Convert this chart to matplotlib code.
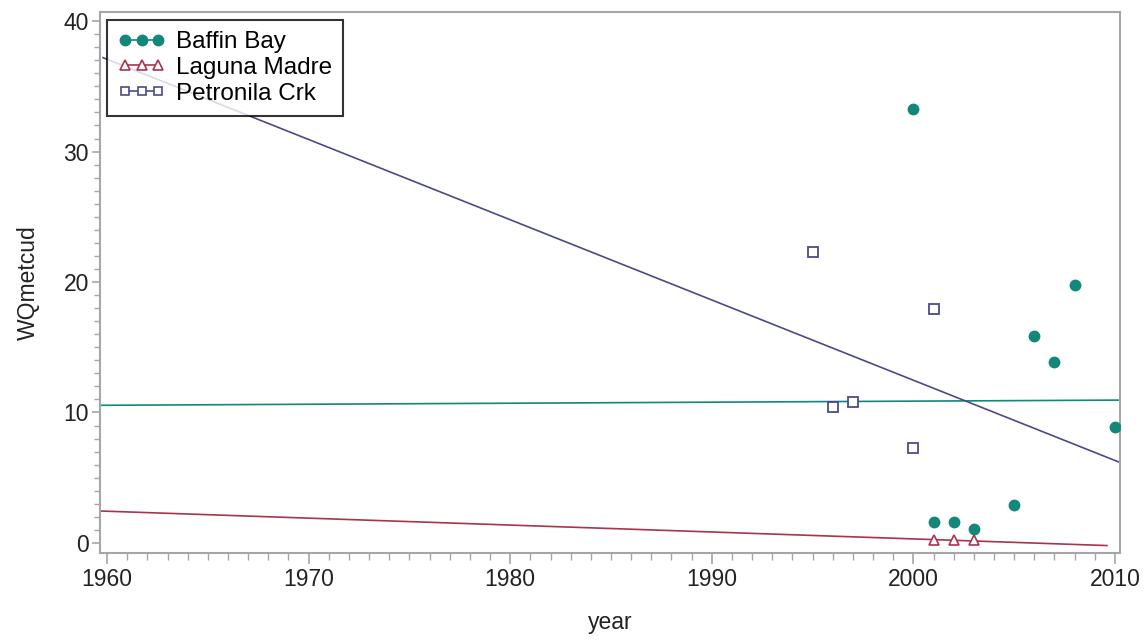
import matplotlib
matplotlib.use("Agg")
import matplotlib.pyplot as plt
from matplotlib.ticker import MultipleLocator

plt.rcParams['font.family'] = ['Liberation Sans', 'DejaVu Sans']

# ---- data ----
baffin_year = [2000, 2001, 2002, 2003, 2005, 2006, 2007, 2008, 2010]
baffin_val = [33.3, 1.6, 1.6, 1.1, 2.9, 15.9, 13.9, 19.8, 8.9]

laguna_year = [2001, 2002, 2003]
laguna_val = [0.25, 0.25, 0.2]

petronila_year = [1995, 1996, 1997, 2000, 2001]
petronila_val = [22.3, 10.4, 10.8, 7.3, 17.9]

# fitted regression lines (endpoints)
baffin_fit_x = [1959.65, 2010.2]
baffin_fit_y = [10.55, 10.95]
laguna_fit_x = [1959.65, 2009.6]
laguna_fit_y = [2.45, -0.2]
petronila_fit_x = [1959.8, 2010.2]
petronila_fit_y = [37.2, 6.2]

teal = '#13877A'
red = '#A8344E'
navy = '#4A4A8A'
grey = '#A6A6A6'

fig = plt.figure(figsize=(11.48, 6.41), dpi=100)
ax = fig.add_axes([0.0871, 0.1373, 0.8885, 0.844])

ax.plot(baffin_fit_x, baffin_fit_y, color=teal, lw=1.2, zorder=2)
ax.plot(laguna_fit_x, laguna_fit_y, color=red, lw=1.2, zorder=2)
ax.plot(petronila_fit_x, petronila_fit_y, color=navy, lw=1.2, zorder=2)

ax.plot(baffin_year, baffin_val, ls='none', marker='o', ms=7.5, color=teal, mec=teal, zorder=3)
ax.plot(laguna_year, laguna_val, ls='none', marker='^', ms=6.5, mfc='white', mec=red, mew=1.2, zorder=3)
ax.plot(petronila_year, petronila_val, ls='none', marker='s', ms=7, mfc='white', mec=navy, mew=1.3, zorder=3)

# legend handles
h1, = ax.plot([], [], color=teal, marker='o', ms=7.5, lw=1.2)
h2, = ax.plot([], [], color=red, marker='^', ms=6.5, mfc='white', mec=red, mew=1.2, lw=1.2)
h3, = ax.plot([], [], color=navy, marker='s', ms=6, mfc='white', mec=navy, mew=1.2, lw=1.2)
leg = ax.legend([h1, h2, h3], ['Baffin Bay', 'Laguna Madre', 'Petronila Crk'],
                loc='upper left', bbox_to_anchor=(0.007, 0.985), numpoints=3,
                handlelength=1.95, handletextpad=0.45, borderpad=0.45, labelspacing=0.16,
                fontsize=17.5, frameon=True, fancybox=False, borderaxespad=0.0)
leg.get_frame().set_edgecolor('black')
leg.get_frame().set_linewidth(1.5)

ax.set_xlim(1959.65, 2010.25)
ax.set_ylim(-0.77, 40.7)
ax.xaxis.set_major_locator(MultipleLocator(10))
ax.xaxis.set_minor_locator(MultipleLocator(1))
ax.yaxis.set_major_locator(MultipleLocator(10))
ax.yaxis.set_minor_locator(MultipleLocator(1))

for s in ax.spines.values():
    s.set_color(grey)
    s.set_linewidth(1.5)
ax.tick_params(which='major', width=1.2, color=grey, labelsize=16.5, labelcolor='#222222')
ax.tick_params(which='minor', width=1.0, color=grey)
ax.tick_params(axis='x', which='major', length=8, pad=3)
ax.tick_params(axis='x', which='minor', length=5)
ax.tick_params(axis='y', which='major', length=6, pad=2)
ax.tick_params(axis='y', which='minor', length=4)
ax.tick_params(axis='x', which='both', top=False)
ax.tick_params(axis='y', which='both', right=False)

ax.set_xlabel('year', fontsize=16.5, color='#222222', labelpad=14)
ax.set_ylabel('WQmetcud', fontsize=16.5, color='#222222', labelpad=17)

fig.savefig('out.png', dpi=100)
